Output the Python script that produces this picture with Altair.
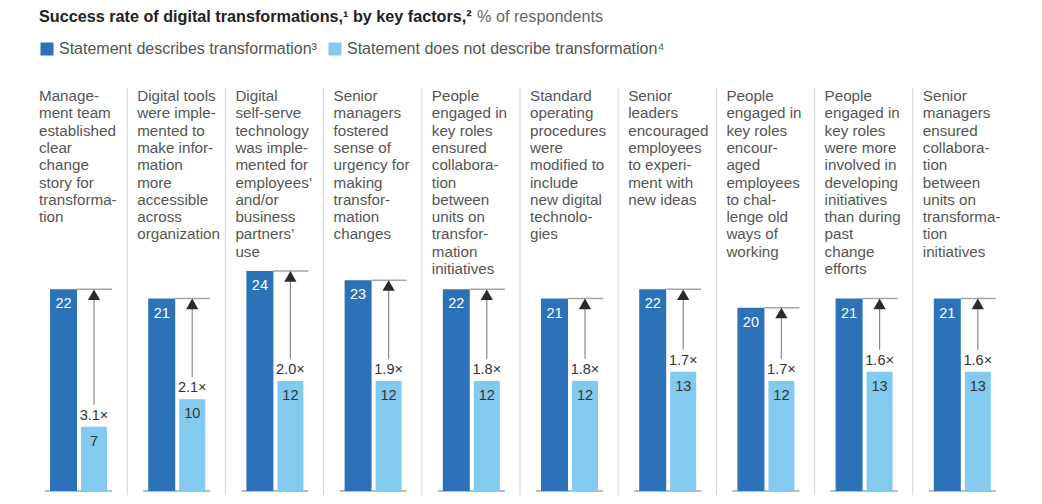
import altair as alt
import pandas as pd

factors = [
    "Manage-\nment team\nestablished\nclear\nchange\nstory for\ntransforma-\ntion",
    "Digital tools\nwere imple-\nmented to\nmake infor-\nmation\nmore\naccessible\nacross\norganization",
    "Digital\nself-serve\ntechnology\nwas imple-\nmented for\nemployees’\nand/or\nbusiness\npartners’\nuse",
    "Senior\nmanagers\nfostered\nsense of\nurgency for\nmaking\ntransfor-\nmation\nchanges",
    "People\nengaged in\nkey roles\nensured\ncollabora-\ntion\nbetween\nunits on\ntransfor-\nmation\ninitiatives",
    "Standard\noperating\nprocedures\nwere\nmodified to\ninclude\nnew digital\ntechnolo-\ngies",
    "Senior\nleaders\nencouraged\nemployees\nto experi-\nment with\nnew ideas",
    "People\nengaged in\nkey roles\nencour-\naged\nemployees\nto chal-\nlenge old\nways of\nworking",
    "People\nengaged in\nkey roles\nwere more\ninvolved in\ndeveloping\ninitiatives\nthan during\npast\nchange\nefforts",
    "Senior\nmanagers\nensured\ncollabora-\ntion\nbetween\nunits on\ntransforma-\ntion\ninitiatives",
]
describes = [22, 21, 24, 23, 22, 21, 22, 20, 21, 21]
not_describes = [7, 10, 12, 12, 12, 12, 13, 12, 13, 13]
multipliers = ["3.1×", "2.1×", "2.0×", "1.9×", "1.8×", "1.8×", "1.7×", "1.7×", "1.6×", "1.6×"]
series = ["Statement describes transformation³", "Statement does not describe transformation⁴"]
title_parts = ["Success rate of digital transformations,¹ by key factors,²", "% of respondents"]

DARK = "#2b72b8"
LIGHT = "#82cbee"
FONT = "Liberation Sans"
TXT = "#555555"

n = len(factors)
panels = pd.DataFrame({
    "idx": list(range(n)),
    "factor": factors,
    "yes": describes,
    "no": not_describes,
    "mult": multipliers,
    "zero": [0] * n,
})

bars = pd.DataFrame({
    "idx": list(range(n)) * 2,
    "series": [series[0]] * n + [series[1]] * n,
    "value": describes + not_describes,
    "zero": [0] * (2 * n),
})

seps = pd.DataFrame({"idx": list(range(1, n))})
title_df = pd.DataFrame({"t": title_parts, "part": [0, 1]})

yscale = alt.Scale(domain=[0, 24], range=[403, 183])


def xfield():
    return alt.X("idx:Q", scale=alt.Scale(domain=[0, n], range=[21, 21 + 98.2 * n]), axis=None)


def yf(field):
    return alt.Y(field, type="quantitative", scale=yscale, axis=None)


color = alt.Color(
    "series:N",
    scale=alt.Scale(domain=series, range=[DARK, LIGHT]),
    legend=alt.Legend(
        title=None, orient="none", legendX=31, legendY=-47, direction="horizontal",
        symbolType="square", symbolSize=169, symbolStrokeWidth=0, symbolOpacity=1,
        labelFont=FONT, labelFontSize=16, labelColor=TXT, labelOffset=4,
        columnPadding=10, labelLimit=500,
    ),
)

base_p = alt.Chart(panels)

sep_layer = alt.Chart(seps).mark_rule(color="#d3d3d3", strokeWidth=1).encode(
    x=xfield(), y=alt.value(0), y2=alt.value(407)
)

label_layer = base_p.mark_text(
    align="left", baseline="top", font=FONT, fontSize=15.2, color=TXT, lineHeight=17.3,
    dx=10, lineBreak="\n"
).encode(x=xfield(), y=alt.value(1), text="factor:N")

dark_bar = alt.Chart(bars).transform_filter(alt.datum.series == series[0]).mark_bar(
    xOffset=21, x2Offset=48
).encode(x=xfield(), x2="idx:Q", y=yf("value"), y2="zero:Q", color=color)

light_bar = alt.Chart(bars).transform_filter(alt.datum.series == series[1]).mark_bar(
    xOffset=52, x2Offset=78
).encode(x=xfield(), x2="idx:Q", y=yf("value"), y2="zero:Q", color=color)

baseline = base_p.mark_rule(color="#a6a6a6", strokeWidth=1.5, xOffset=16, x2Offset=83).encode(
    x=xfield(), x2="idx:Q", y=yf("zero")
)

topline = base_p.mark_rule(color="#a6a6a6", strokeWidth=1.5, xOffset=48, x2Offset=83).encode(
    x=xfield(), x2="idx:Q", y=yf("yes")
)

shaft = base_p.mark_rule(color="#8a8a8a", strokeWidth=1.2, xOffset=65, yOffset=-22, y2Offset=8).encode(
    x=xfield(), y=yf("no"), y2="yes:Q"
)

head = base_p.mark_point(
    shape="triangle-up", size=150, filled=True, color="#2a2a2a", opacity=1, xOffset=65, yOffset=5.4
).encode(x=xfield(), y=yf("yes"))

dark_lbl = base_p.mark_text(
    baseline="alphabetic", align="center", font=FONT, fontSize=14.5, color="white", dx=34.5, dy=19
).encode(x=xfield(), y=yf("yes"), text="yes:Q")

light_lbl = base_p.mark_text(
    baseline="alphabetic", align="center", font=FONT, fontSize=14.5, color="#333333", dx=65, dy=19
).encode(x=xfield(), y=yf("no"), text="no:Q")

mult_lbl = base_p.mark_text(
    baseline="alphabetic", align="center", font=FONT, fontSize=14.5, color="#333333", dx=65, dy=-7
).encode(x=xfield(), y=yf("no"), text="mult:N")

title_bold = alt.Chart(title_df).transform_filter(alt.datum.part == 0).mark_text(
    align="left", baseline="alphabetic", font=FONT, fontSize=16.2, fontWeight="bold", color="#222222"
).encode(x=alt.value(31), y=alt.value(-66), text="t:N")

title_rest = alt.Chart(title_df).transform_filter(alt.datum.part == 1).mark_text(
    align="left", baseline="alphabetic", font=FONT, fontSize=16.2, color="#666666"
).encode(x=alt.value(469), y=alt.value(-66), text="t:N")

chart = alt.layer(
    sep_layer, label_layer, baseline, topline, dark_bar, light_bar, shaft, head,
    dark_lbl, light_lbl, mult_lbl, title_bold, title_rest
).properties(
    width=1026, height=410,
    padding={"left": 0, "top": 80, "right": 0, "bottom": 0},
    autosize=alt.AutoSizeParams(type="none"),
).configure_view(stroke=None)

chart.save("out.html", embed_options={"renderer": "svg", "actions": False})
